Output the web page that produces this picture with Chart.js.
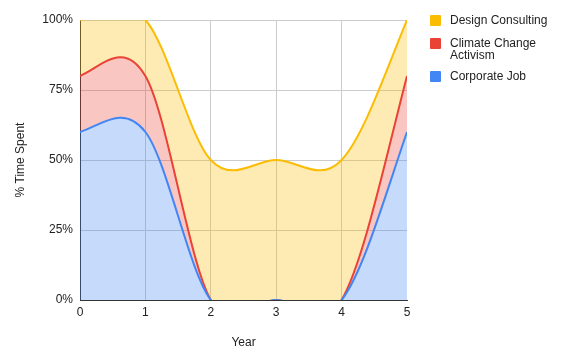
<!DOCTYPE html>
<html>
<head>
<meta charset="utf-8">
<script src="https://cdn.jsdelivr.net/npm/chart.js@4"></script>
<style>
  html, body { margin: 0; padding: 0; background: #fff; }
  #wrap { position: relative; width: 564px; height: 357px; }
  canvas { position: absolute; left: 0; top: 0; }
  #legend { position: absolute; left: 430px; top: 14px; font-family: Arial, "Liberation Sans", sans-serif; font-size: 12px; color: #222; }
  .item { position: relative; padding-left: 20px; line-height: 12px; margin-bottom: 9px; }
  .item.first { margin-bottom: 11px; }
  .sw { position: absolute; left: 0; top: 1px; width: 11px; height: 11px; border-radius: 1px; }
</style>
</head>
<body>
<div id="wrap">
  <canvas id="c" width="564" height="357"></canvas>
  <div id="legend"></div>
</div>
<script>
const years = [0, 1, 2, 3, 4, 5];
const corporateJob = [60, 60, 0, 0, 0, 60];
const climateActivism = [20, 20, 0, 0, 0, 20];
const designConsulting = [20, 20, 50, 50, 50, 20];
const yTicks = [0, 25, 50, 75, 100];
const seriesNames = ["Corporate Job", "Climate Change Activism", "Design Consulting"];

const colors = ["#4285f4", "#ea4335", "#fbbc04"];
const fills = ["rgba(66,133,244,0.3)", "rgba(234,67,53,0.3)", "rgba(251,188,4,0.3)"];
const seriesData = [corporateJob, climateActivism, designConsulting];

const datasets = seriesData.map((vals, i) => ({
  label: seriesNames[i],
  data: vals.map((v, j) => ({ x: years[j], y: v })),
  borderColor: colors[i],
  backgroundColor: fills[i],
  borderWidth: 2,
  pointRadius: 0,
  tension: 0.3,
  clip: 0,
  fill: i === 0 ? 'origin' : '-1'
}));

// Catmull-Rom style smoothing (like a "function" curve), computed from the
// pixel positions that Chart.js's scales gave the points.
const smoothCurve = {
  id: 'smoothCurve',
  afterDatasetsUpdate(chart) {
    chart.getSortedVisibleDatasetMetas().forEach(meta => {
      const pts = meta.data;
      const n = pts.length;
      if (n < 2) return;
      const T = [];
      for (let i = 1; i < n - 1; i++) {
        T[i] = { x: (pts[i + 1].x - pts[i - 1].x) / 2, y: (pts[i + 1].y - pts[i - 1].y) / 2 };
      }
      const s0 = { x: pts[1].x - pts[0].x, y: pts[1].y - pts[0].y };
      const sn = { x: pts[n - 1].x - pts[n - 2].x, y: pts[n - 1].y - pts[n - 2].y };
      T[0] = n > 2 ? { x: (5 * s0.x - T[1].x) / 4, y: (5 * s0.y - T[1].y) / 4 } : s0;
      T[n - 1] = n > 2 ? { x: (5 * sn.x - T[n - 2].x) / 4, y: (5 * sn.y - T[n - 2].y) / 4 } : sn;
      for (let i = 0; i < n; i++) {
        const p = pts[i];
        p.cp1x = p.x - T[i].x / 3;
        p.cp1y = p.y - T[i].y / 3;
        p.cp2x = p.x + T[i].x / 3;
        p.cp2y = p.y + T[i].y / 3;
      }
      if (meta.dataset) meta.dataset._pointsUpdated = true;
    });
  }
};

// HTML legend (order: Design Consulting, Climate Change Activism, Corporate Job)
const legend = document.getElementById('legend');
const legendLines = [["Design Consulting"], ["Climate Change", "Activism"], ["Corporate Job"]];
[2, 1, 0].forEach((idx, k) => {
  const d = document.createElement('div');
  d.className = 'item' + (k === 0 ? ' first' : '');
  const sw = document.createElement('span');
  sw.className = 'sw';
  sw.style.background = colors[idx];
  d.appendChild(sw);
  const t = document.createElement('span');
  t.innerHTML = legendLines[k].join('<br>');
  d.appendChild(t);
  legend.appendChild(d);
});

const font = { family: 'Arial, "Liberation Sans", sans-serif', size: 12 };

new Chart(document.getElementById('c'), {
  type: 'line',
  data: { datasets },
  plugins: [smoothCurve],
  options: {
    responsive: false,
    animation: false,
    layout: { padding: { left: 0, right: 157, top: 20, bottom: 0 } },
    plugins: { legend: { display: false }, tooltip: { enabled: false } },
    scales: {
      x: {
        type: 'linear',
        min: 0, max: 5,
        ticks: { stepSize: 1, color: '#222', font, padding: 5 },
        grid: {
          drawTicks: false,
          color: ctx => (ctx.tick && (ctx.tick.value === 0 || ctx.tick.value === 5)) ? 'rgba(0,0,0,0)' : '#cccccc'
        },
        border: { color: '#333333', width: 1 },
        title: { display: true, text: 'Year', color: '#222', font, padding: { top: 0, bottom: 7 } },
        afterFit: s => { s.height = 57; }
      },
      y: {
        stacked: true,
        min: 0, max: 100,
        afterBuildTicks: s => { s.ticks = yTicks.map(v => ({ value: v })); },
        ticks: { color: '#222', font, padding: 7, callback: v => v + '%' },
        grid: {
          drawTicks: false,
          color: ctx => (ctx.tick && ctx.tick.value === 0) ? 'rgba(0,0,0,0)' : '#cccccc'
        },
        border: { color: '#333333', width: 1 },
        title: { display: true, text: '% Time Spent', color: '#222', font, padding: { top: 13, bottom: 0 } },
        afterFit: s => { s.width = 80; }
      }
    }
  }
});
</script>
</body>
</html>
